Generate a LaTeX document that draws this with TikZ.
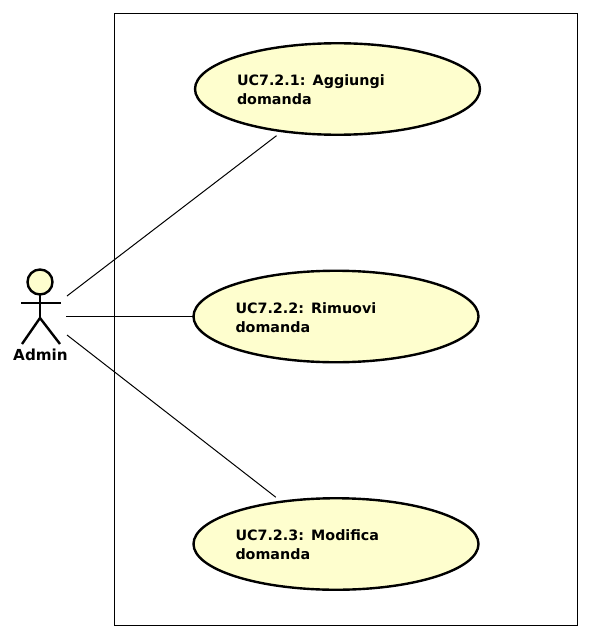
\documentclass[tikz,border=0pt]{standalone}
\usetikzlibrary{shapes.geometric}
\usepackage{fontspec}
\setmainfont{DejaVu Sans}
\definecolor{ucfill}{HTML}{FEFECE}
\tikzset{
  usecase/.style={shape=ellipse,draw=black,fill=ucfill,line width=2.4pt,inner sep=0pt,outer sep=1pt,
    minimum width=285pt,minimum height=91.5pt,text width=201pt,align=left,
    font=\bfseries\fontsize{14.3}{19}\selectfont},
  assoc/.style={draw=black,line width=1pt},
  assocgap/.style={assoc,shorten >=6pt},
  boundary/.style={draw=black,line width=1pt},
  actorline/.style={draw=black,line width=2.4pt},
  actorlabel/.style={font=\bfseries\fontsize{15.2}{17}\selectfont,inner sep=0pt}
}
\begin{document}
\begin{tikzpicture}[x=1pt,y=-1pt]
\useasboundingbox (0,0) rectangle (589,637);
\fill[white] (0,0) rectangle (589,637);
\node[boundary,shape=rectangle,minimum width=463pt,minimum height=612pt,inner sep=0pt,outer sep=0pt] (sys) at (345.5,319) {};
\node[usecase] (uc1) at (337.5,89) {UC7.2.1: Aggiungi\\domanda\vspace*{-2pt}};
\node[usecase] (uc2) at (336,316.5) {UC7.2.2: Rimuovi\\domanda\vspace*{-2pt}};
\node[usecase] (uc3) at (336,544) {UC7.2.3: Modifica\\domanda\vspace*{-2pt}};
\node[shape=circle,draw=black,fill=ucfill,line width=2.4pt,minimum size=25pt,inner sep=0pt,outer sep=0pt] (head) at (40,282) {};
\coordinate (hip) at (40,318);
\coordinate (armL) at (21,303);
\coordinate (armR) at (61,303);
\coordinate (legL) at (22,344);
\coordinate (legR) at (60,344);
\draw[actorline] (head.south) -- (hip);
\draw[actorline] (armL) -- (armR);
\draw[actorline] (legL) -- (hip) -- (legR);
\node[actorlabel] (admin) at (40.5,355) {Admin};
\coordinate (a1) at (67,296);
\coordinate (a2) at (66,316.5);
\coordinate (a3) at (67,335);
\draw[assocgap] (a1) -- (uc1);
\draw[assoc] (a2) -- (uc2);
\draw[assocgap] (a3) -- (uc3);
\end{tikzpicture}
\end{document}
